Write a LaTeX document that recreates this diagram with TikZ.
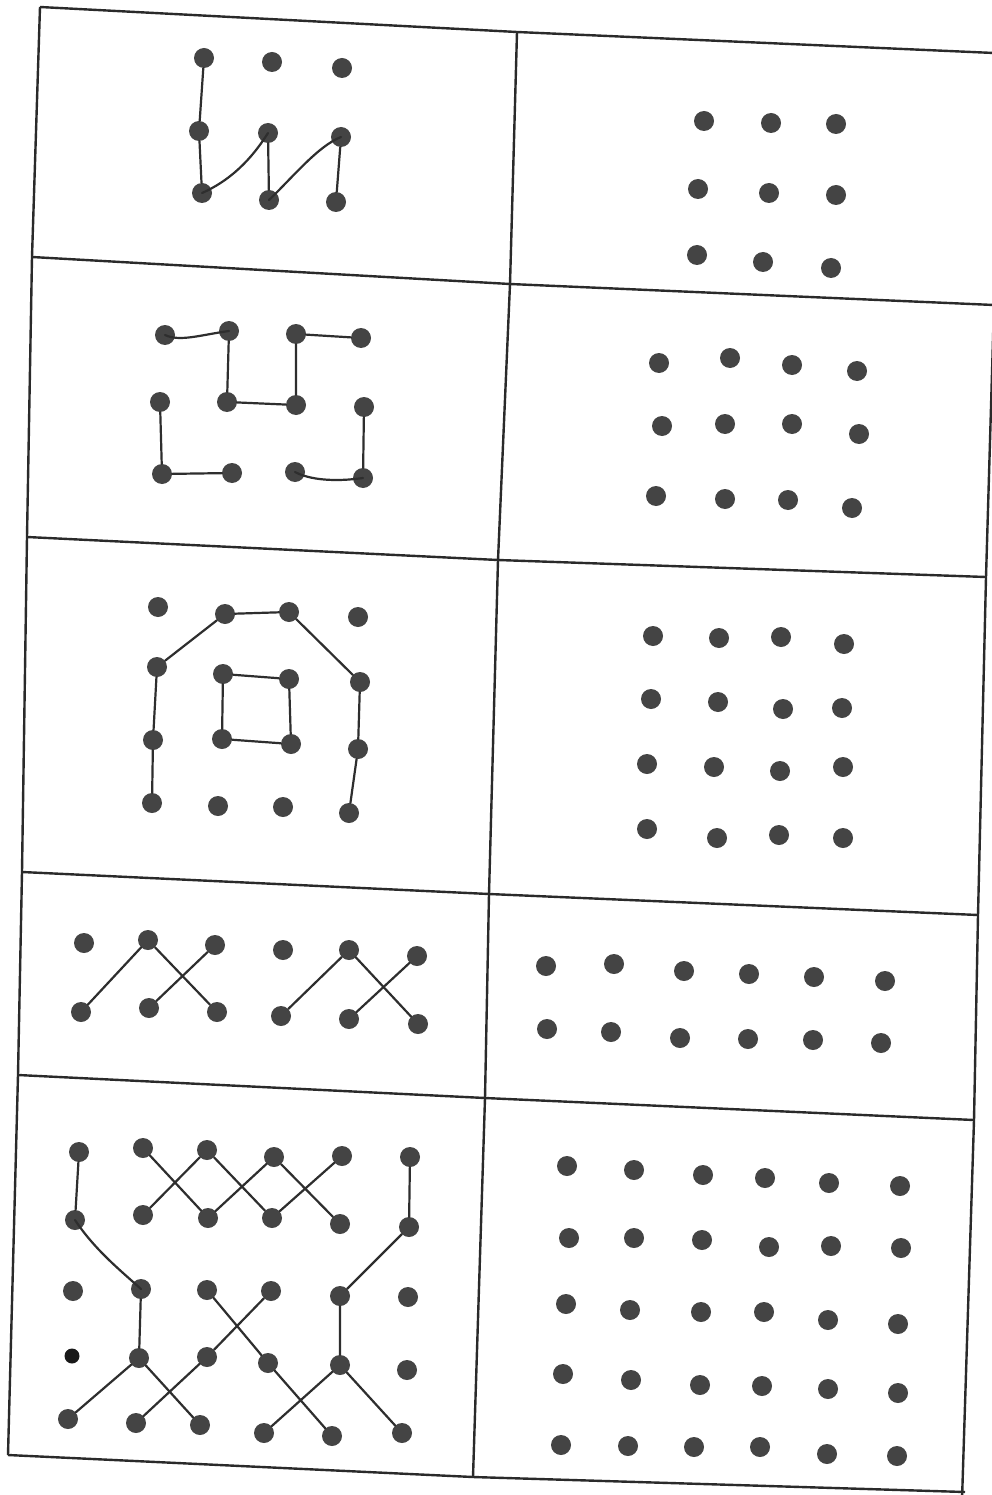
\documentclass[tikz,border=0pt]{standalone}
\usetikzlibrary{calc}
\definecolor{ink}{HTML}{2A2A2A}
\definecolor{dotc}{HTML}{444444}
\definecolor{linec}{HTML}{2E2E2E}
\tikzset{
  dot/.style={circle, fill=dotc, draw=none, minimum size=20pt, inner sep=0pt},
  dotblack/.style={circle, fill=black!90, draw=none, minimum size=15pt, inner sep=0pt},
  frame/.style={draw=ink, line width=2.4pt, line join=round},
  conn/.style={draw=linec, line width=2.2pt, line cap=round},
}
\begin{document}
\begin{tikzpicture}[x=1pt,y=-1pt]
\path[fill=white] (0,0) rectangle (992,1495);
\clip (0,0) rectangle (992,1495);
% frame coordinates
\coordinate (l1) at (40,7);   \coordinate (m1) at (517,32);  \coordinate (r1) at (994,53);
\coordinate (l2) at (32,257); \coordinate (m2) at (510,284); \coordinate (r2) at (994,305);
\coordinate (l3) at (27,537); \coordinate (m3) at (498,560); \coordinate (r3) at (986,577);
\coordinate (l4) at (22,872); \coordinate (m4) at (489,894); \coordinate (r4) at (978,915);
\coordinate (l5) at (18,1075);\coordinate (m5) at (485,1098);\coordinate (r5) at (974,1120);
\coordinate (l6) at (8,1455); \coordinate (m6) at (473,1477);\coordinate (r6) at (965,1492);
\coordinate (rb) at (962,1500);
% frame lines
\draw[frame] (l1) -- (m1) -- (r1);
\draw[frame] (l2) -- (m2) -- (r2);
\draw[frame] (l3) -- (m3) -- (r3);
\draw[frame] (l4) -- (m4) -- (r4);
\draw[frame] (l5) -- (m5) -- (r5);
\draw[frame] (l6) -- (m6) -- (r6);
\draw[frame] (l1) -- (l2) -- (l3) -- (l4) -- (l5) -- (l6);
\draw[frame] (m1) -- (m2) -- (m3) -- (m4) -- (m5) -- (m6);
\draw[frame] (r2) -- (r3) -- (r4) -- (r5) -- (rb);

% ---------- panel 1 left ----------
\foreach \n/\x/\y in {a11/204/58, a12/272/62, a13/342/68,
                      a21/199/131, a22/268/133, a23/341/137,
                      a31/202/193, a32/269/200, a33/336/202}
  \node[dot] (\n) at (\x,\y) {};
\draw[conn] (a11) -- (a21) -- (a31);
\draw[conn] (a31.center) .. controls (236,178) and (256,152) .. (a22.center);
\draw[conn] (a22) -- (a32);
\draw[conn] (a32.center) .. controls (292,178) and (318,146) .. (a23.center);
\draw[conn] (a23) -- (a33);

% ---------- panel 1 right ----------
\foreach \n/\x/\y in {b11/704/121, b12/771/123, b13/836/124,
                      b21/698/189, b22/769/193, b23/836/195,
                      b31/697/255, b32/763/262, b33/831/268}
  \node[dot] (\n) at (\x,\y) {};

% ---------- panel 2 left ----------
\foreach \n/\x/\y in {c11/165/335, c12/229/331, c13/296/334, c14/361/338,
                      c21/160/402, c22/227/402, c23/296/405, c24/364/407,
                      c31/162/474, c32/232/473, c33/295/472, c34/363/478}
  \node[dot] (\n) at (\x,\y) {};
\draw[conn] (c11.center) .. controls (180,342) and (200,335) .. (c12.center);
\draw[conn] (c12) -- (c22) -- (c23) -- (c13) -- (c14);
\draw[conn] (c21) -- (c31) -- (c32);
\draw[conn] (c33.center) .. controls (310,480) and (335,482) .. (c34.center);
\draw[conn] (c34) -- (c24);

% ---------- panel 2 right ----------
\foreach \n/\x/\y in {d11/659/363, d12/730/358, d13/792/365, d14/857/371,
                      d21/662/426, d22/725/424, d23/792/424, d24/859/434,
                      d31/656/496, d32/725/499, d33/788/500, d34/852/508}
  \node[dot] (\n) at (\x,\y) {};

% ---------- panel 3 left ----------
\foreach \n/\x/\y in {e11/158/607, e12/225/614, e13/289/612, e14/358/617,
                      e21/157/667, e22/223/674, e23/289/679, e24/360/682,
                      e31/153/740, e32/222/739, e33/291/744, e34/358/749,
                      e41/152/803, e42/218/806, e43/283/807, e44/349/813}
  \node[dot] (\n) at (\x,\y) {};
\draw[conn] (e41) -- (e31) -- (e21) -- (e12) -- (e13) -- (e24) -- (e34) -- (e44);
\draw[conn] (e22) -- (e23) -- (e33) -- (e32) -- (e22);

% ---------- panel 3 right ----------
\foreach \n/\x/\y in {f11/653/636, f12/719/638, f13/781/637, f14/844/644,
                      f21/651/699, f22/718/702, f23/783/709, f24/842/708,
                      f31/647/764, f32/714/767, f33/780/771, f34/843/767,
                      f41/647/829, f42/717/838, f43/779/835, f44/843/838}
  \node[dot] (\n) at (\x,\y) {};

% ---------- panel 4 left ----------
\foreach \n/\x/\y in {g11/84/943, g12/148/940, g13/215/945, g14/283/950, g15/349/950, g16/417/956,
                      g21/81/1012, g22/149/1008, g23/217/1012, g24/281/1016, g25/349/1019, g26/418/1024}
  \node[dot] (\n) at (\x,\y) {};
\draw[conn] (g21) -- (g12) -- (g23);
\draw[conn] (g22) -- (g13);
\draw[conn] (g24) -- (g15) -- (g26);
\draw[conn] (g25) -- (g16);

% ---------- panel 4 right ----------
\foreach \n/\x/\y in {h11/546/966, h12/614/964, h13/684/971, h14/749/974, h15/814/977, h16/885/981,
                      h21/547/1029, h22/611/1032, h23/680/1038, h24/748/1039, h25/813/1040, h26/881/1043}
  \node[dot] (\n) at (\x,\y) {};

% ---------- panel 5 left ----------
\foreach \n/\x/\y in {k11/79/1152, k12/143/1148, k13/207/1150, k14/274/1157, k15/342/1156, k16/410/1157,
                      k21/75/1220, k22/143/1215, k23/208/1218, k24/272/1218, k25/340/1224, k26/409/1227,
                      k31/73/1291, k32/141/1289, k33/207/1290, k34/271/1291, k35/340/1296, k36/408/1297,
                      k42/139/1358, k43/207/1357, k44/268/1363, k45/340/1365, k46/407/1370,
                      k51/68/1419, k52/136/1423, k53/200/1425, k54/264/1433, k55/332/1436, k56/402/1433}
  \node[dot] (\n) at (\x,\y) {};
\node[dotblack] (k41) at (72,1356) {};
\draw[conn] (k11) -- (k21);
\draw[conn] (k16) -- (k26);
\draw[conn] (k12) -- (k23) -- (k14) -- (k25);
\draw[conn] (k22) -- (k13) -- (k24) -- (k15);
\draw[conn] (k21.center) .. controls (95,1250) and (120,1270) .. (k32.center);
\draw[conn] (k32) -- (k42) -- (k51);
\draw[conn] (k42) -- (k53);
\draw[conn] (k52) -- (k43) -- (k34);
\draw[conn] (k33) -- (k44) -- (k55);
\draw[conn] (k26) -- (k35) -- (k45) -- (k54);
\draw[conn] (k45) -- (k56);

% ---------- panel 5 right ----------
\foreach \n/\x/\y in {p11/567/1166, p12/634/1170, p13/703/1175, p14/765/1178, p15/829/1183, p16/900/1186,
                      p21/569/1238, p22/634/1238, p23/702/1240, p24/769/1247, p25/831/1246, p26/901/1248,
                      p31/566/1304, p32/630/1310, p33/701/1312, p34/764/1312, p35/828/1320, p36/898/1324,
                      p41/563/1374, p42/631/1380, p43/700/1385, p44/762/1386, p45/828/1389, p46/898/1393,
                      p51/561/1445, p52/628/1446, p53/694/1447, p54/760/1447, p55/827/1454, p56/897/1456}
  \node[dot] (\n) at (\x,\y) {};
\end{tikzpicture}
\end{document}
